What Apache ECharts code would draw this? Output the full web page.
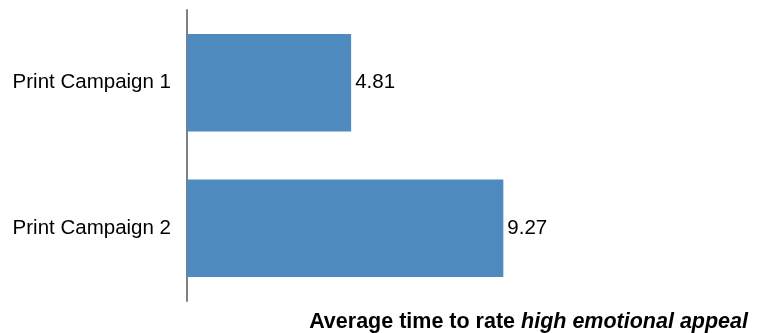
<!DOCTYPE html>
<html><head><meta charset="utf-8">
<script src="https://cdn.jsdelivr.net/npm/echarts@6/dist/echarts.min.js"></script>
<style>html,body{margin:0;padding:0;background:#fff}#c{width:758px;height:333px}</style>
</head><body><div id="c"></div>
<script>
const categories = ['Print Campaign 1', 'Print Campaign 2'];
const values = [4.81, 9.27];
const chart = echarts.init(document.getElementById('c'));
chart.setOption({
  animation: false,
  title: {
    text: '{b|Average time to rate }{i|high emotional appeal}',
    right: 10, top: 311, padding: 0,
    textStyle: {
      rich: {
        b: {fontFamily: 'Liberation Sans', fontSize: 21.5, fontWeight: 'bold', color: '#000'},
        i: {fontFamily: 'Liberation Sans', fontSize: 21.5, fontWeight: 'bold', fontStyle: 'italic', color: '#000'}
      }
    }
  },
  grid: {left: 187, top: 10, width: 546, height: 291, containLabel: false},
  xAxis: {type: 'value', min: 0, max: 16, show: false},
  yAxis: {
    type: 'category', data: categories, inverse: true,
    axisLine: {show: true, lineStyle: {color: '#808080', width: 2}},
    axisTick: {show: false},
    axisLabel: {fontFamily: 'Liberation Sans', fontSize: 20.5, color: '#000', margin: 16, padding: [3, 0, 0, 0]}
  },
  series: [{
    type: 'bar', data: values, barWidth: '67%',
    itemStyle: {color: '#4F8ABE'},
    label: {show: true, position: 'right', distance: 4, fontFamily: 'Liberation Sans', fontSize: 20.5, color: '#000', padding: [3, 0, 0, 0]}
  }]
});
</script></body></html>
